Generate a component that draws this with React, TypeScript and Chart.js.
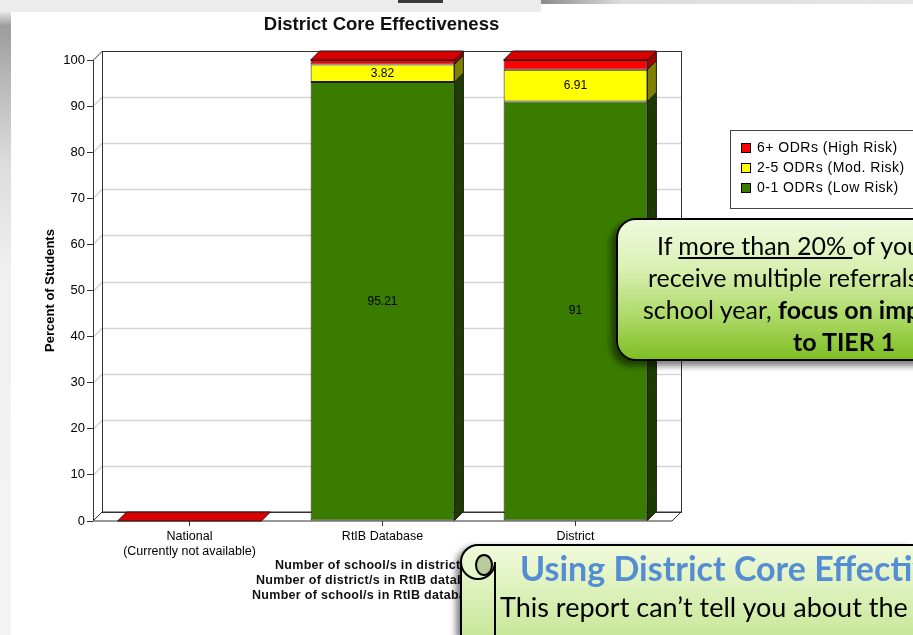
import React, { useEffect, useRef } from "react";
import { Chart, registerables } from "chart.js";

Chart.register(...registerables);

// ---------- data ----------
const categories: (string | string[])[] = [
  ["National", "(Currently not available)"],
  "RtIB Database",
  "District",
];
const seriesNames = ["0-1 ODRs (Low Risk)", "2-5 ODRs (Mod. Risk)", "6+ ODRs (High Risk)"];
const lowRisk = [0, 95.21, 91];
const modRisk = [0, 3.82, 6.91];
const highRisk = [0, 0.97, 2.09];
const yTickValues = [0, 10, 20, 30, 40, 50, 60, 70, 80, 90, 100];
const chartTitle = "District Core Effectiveness";
const yAxisTitle = "Percent of Students";
const footnotes = [
  "Number of school/s in district",
  "Number of district/s in RtIB database",
  "Number of school/s in RtIB database",
];

// ---------- styles ----------
const FONT = "'Liberation Sans', Arial, sans-serif";
const FRONT = ["#3a7c00", "#ffff00", "#ff0000"];
const SIDE = ["#1d3d00", "#808000", "#a00000"];
const TOP = ["#2c5e00", "#d6d600", "#d90000"];
const DEPTH = 9;

function poly(ctx: CanvasRenderingContext2D, pts: number[][], fill: string, stroke: string) {
  ctx.beginPath();
  ctx.moveTo(pts[0][0], pts[0][1]);
  for (let i = 1; i < pts.length; i++) ctx.lineTo(pts[i][0], pts[i][1]);
  ctx.closePath();
  ctx.fillStyle = fill;
  ctx.fill();
  ctx.strokeStyle = stroke;
  ctx.lineWidth = 1;
  ctx.stroke();
}

const threeD = {
  id: "threeD",
  beforeDatasetsDraw(chart: any) {
    const { ctx, chartArea, scales } = chart;
    const { left: L, right: R, top: T, bottom: B } = chartArea;
    const y = scales.y;
    const D = DEPTH;
    ctx.save();
    ctx.fillStyle = "#fff";
    ctx.fillRect(L + D, T - D, R - L, B - T);
    ctx.strokeStyle = "#d4d4d4";
    ctx.lineWidth = 1.5;
    y.ticks.forEach((t: any) => {
      if (t.value <= y.min || t.value >= y.max) return;
      const py = Math.round(y.getPixelForValue(t.value)) + 0.5;
      ctx.beginPath();
      ctx.moveTo(L, py);
      ctx.lineTo(L + D, py - D);
      ctx.lineTo(R + D, py - D);
      ctx.stroke();
    });
    poly(ctx, [[L, B], [L + D, B - D], [R + D, B - D], [R, B]], "#fff", "#333");
    ctx.strokeStyle = "#333";
    ctx.lineWidth = 1;
    ctx.strokeRect(Math.round(L + D) + 0.5, Math.round(T - D) + 0.5, R - L, B - T);
    ctx.beginPath();
    ctx.moveTo(L + 0.5, B);
    ctx.lineTo(L + 0.5, T);
    ctx.lineTo(L + D + 0.5, T - D);
    ctx.stroke();
    ctx.restore();
  },
  afterDatasetsDraw(chart: any) {
    const { ctx } = chart;
    const D = DEPTH;
    const n = chart.data.datasets.length;
    ctx.save();
    for (let di = 0; di < n; di++) {
      const meta = chart.getDatasetMeta(di);
      meta.data.forEach((el: any) => {
        const { x, y, base, width } = el.getProps(["x", "y", "base", "width"], true);
        if (Math.abs(base - y) < 0.5) return;
        const r = x + width / 2;
        poly(ctx, [[r, y], [r + D, y - D], [r + D, base - D], [r, base]], SIDE[di], "#1a1a1a");
      });
    }
    const topMeta = chart.getDatasetMeta(n - 1);
    topMeta.data.forEach((el: any) => {
      const { x, y, width } = el.getProps(["x", "y", "width"], true);
      const l = x - width / 2;
      const r = x + width / 2;
      poly(ctx, [[l, y], [l + D, y - D], [r + D, y - D], [r, y]], TOP[n - 1], "#1a1a1a");
    });
    ctx.fillStyle = "#000";
    ctx.font = `12px ${FONT}`;
    ctx.textAlign = "center";
    ctx.textBaseline = "middle";
    for (let di = 0; di < n; di++) {
      const meta = chart.getDatasetMeta(di);
      meta.data.forEach((el: any, i: number) => {
        const v = chart.data.datasets[di].data[i];
        if (v < 3) return;
        const { x, y, base } = el.getProps(["x", "y", "base"], true);
        ctx.fillText(String(v), x, (y + base) / 2);
      });
    }
    ctx.restore();
  },
  afterDraw(chart: any) {
    const { ctx } = chart;
    ctx.save();
    ctx.fillStyle = "#111";
    ctx.font = `bold 18.5px ${FONT}`;
    ctx.textAlign = "center";
    ctx.textBaseline = "middle";
    ctx.fillText(chartTitle, 381.5, 25);
    ctx.fillStyle = "#fff";
    ctx.fillRect(730, 130, 220, 78);
    ctx.strokeStyle = "#444";
    ctx.lineWidth = 1;
    ctx.strokeRect(730.5, 130.5, 220, 78);
    const n = chart.data.datasets.length;
    ctx.font = `14px ${FONT}`;
    (ctx as any).letterSpacing = "0.5px";
    ctx.textAlign = "left";
    for (let k = 0; k < n; k++) {
      const di = n - 1 - k;
      const ds = chart.data.datasets[di];
      const ry = 148 + k * 20;
      ctx.fillStyle = ds.backgroundColor;
      ctx.fillRect(741, ry - 5, 10, 10);
      ctx.strokeStyle = "#000";
      ctx.strokeRect(741.5, ry - 4.5, 9, 9);
      ctx.fillStyle = "#000";
      ctx.fillText(ds.label, 757, ry + 0.5);
    }
    ctx.font = `bold 12.5px ${FONT}`;
    (ctx as any).letterSpacing = "0.3px";
    ctx.fillStyle = "#111";
    const fx = [275, 256, 252];
    footnotes.forEach((t, i) => ctx.fillText(t, fx[i], 566 + i * 15));
    ctx.restore();
  },
};

export default function App() {
  const ref = useRef<HTMLCanvasElement>(null);

  useEffect(() => {
    if (!ref.current) return;
    const datasets = [lowRisk, modRisk, highRisk].map((d, i) => ({
      label: seriesNames[i],
      data: d,
      backgroundColor: FRONT[i],
      borderColor: "#1a1a1a",
      borderWidth: 1,
      borderSkipped: false as const,
      stack: "s",
      barPercentage: 0.745,
      categoryPercentage: 1,
    }));
    const chart = new Chart(ref.current, {
      type: "bar",
      data: { labels: categories, datasets },
      plugins: [threeD],
      options: {
        animation: false,
        responsive: false,
        maintainAspectRatio: false,
        layout: { padding: { top: 60, right: 241, left: 0, bottom: 0 } },
        plugins: {
          legend: { display: false },
          title: { display: false },
          tooltip: { enabled: false },
        },
        scales: {
          x: {
            stacked: true,
            grid: { display: true, drawOnChartArea: false, drawTicks: true, tickLength: 5, offset: false, color: "#333" },
            border: { display: false },
            ticks: { color: "#000", font: { family: FONT, size: 12.5 }, padding: 3, maxRotation: 0, autoSkip: false },
            afterFit: (s: any) => { s.height = 114; },
          },
          y: {
            stacked: true,
            min: 0,
            max: 100,
            afterBuildTicks: (s: any) => { s.ticks = yTickValues.map((v) => ({ value: v })); },
            grid: { drawOnChartArea: false, tickLength: 6, color: "#333" },
            border: { display: false },
            ticks: { color: "#000", font: { family: FONT, size: 13 }, padding: 2 },
            title: {
              display: true,
              text: yAxisTitle,
              color: "#000",
              font: { family: FONT, size: 13, weight: "bold" },
              padding: { top: 43, bottom: 0 },
            },
            afterFit: (s: any) => { s.width = 93; },
          },
        },
      } as any,
    });
    return () => chart.destroy();
  }, []);

  const cal = "Lato, 'Open Sans', sans-serif";
  const line = (left: number, cy: number, content: React.ReactNode) => (
    <div style={{ position: "absolute", left: left - 618, top: cy - 16 - 220, lineHeight: "32px", whiteSpace: "nowrap" }}>{content}</div>
  );

  return (
    <div style={{ position: "fixed", left: 0, top: 0, width: 913, height: 635, overflow: "hidden", background: "#fff" }}>
      <div style={{ position: "absolute", left: 0, top: 0, width: 541, height: 12, background: "#ececec" }} />
      <div style={{ position: "absolute", left: 398, top: 0, width: 45, height: 3, background: "#3a3a3a" }} />
      <div style={{ position: "absolute", left: 541, top: 0, width: 372, height: 4, background: "linear-gradient(to right, #8a8a8a, #dcdcdc 80px, #e6e6e6)" }} />
      <div style={{ position: "absolute", left: 0, top: 12, width: 11, height: 623, background: "linear-gradient(to bottom, #e4e4e4 0px, #9c9c9c 14px, #b4b4b4 60px, #dcdcdc 150px, #f0f0f0 260px, #f4f4f4 100%)" }} />

      <canvas ref={ref} width={913} height={635} style={{ position: "absolute", left: 0, top: 0 }} />

      <div
        style={{
          position: "absolute",
          left: 616,
          top: 218,
          width: 470,
          height: 143,
          boxSizing: "border-box",
          border: "2px solid #000",
          borderRadius: 20,
          background: "linear-gradient(to bottom, #f0f9de 0%, #d9f0b2 35%, #acd966 70%, #7fbe24 100%)",
          boxShadow: "-5px 5px 6px rgba(0,0,0,0.5)",
          fontFamily: cal,
          fontSize: 25,
          color: "#000",
        }}
      >
        {line(657, 245, <>If <span style={{ textDecoration: "underline" }}>more than 20% </span>of your students</>)}
        {line(648, 277, <>receive multiple referrals in a</>)}
        {line(643, 309, <>school year, <b>focus on improvements</b></>)}
        {line(793, 341, <b>to TIER 1</b>)}
      </div>

      <svg width={913} height={635} style={{ position: "absolute", left: 0, top: 0, filter: "drop-shadow(-4px 3px 3px rgba(0,0,0,0.5))" }}>
        <defs>
          <linearGradient id="scrollFill" x1="0" y1="0" x2="0" y2="1">
            <stop offset="0" stopColor="#f1fbdc" />
            <stop offset="1" stopColor="#c4e593" />
          </linearGradient>
        </defs>
        <path d="M461,645 V562 A17,17 0 0 1 478,545 H940 V645 Z" fill="url(#scrollFill)" stroke="#000" strokeWidth={2} />
        <path d="M461,562 A17,17 0 0 0 495,562" fill="none" stroke="#000" strokeWidth={2} />
        <ellipse cx={484} cy={565} rx={8} ry={10} fill="#b9ca9c" stroke="#000" strokeWidth={2} />
        <path d="M495,562 V645" stroke="#000" strokeWidth={2} />
      </svg>
      <div style={{ position: "absolute", left: 520, top: 547, fontFamily: cal, fontWeight: "bold", fontSize: 34, color: "#548dd4", whiteSpace: "nowrap", lineHeight: "42px" }}>
        Using District Core Effectiveness
      </div>
      <div style={{ position: "absolute", left: 500, top: 590, fontFamily: cal, fontSize: 27, color: "#000", whiteSpace: "nowrap", lineHeight: "34px" }}>
        This report can’t tell you about the
      </div>
    </div>
  );
}
